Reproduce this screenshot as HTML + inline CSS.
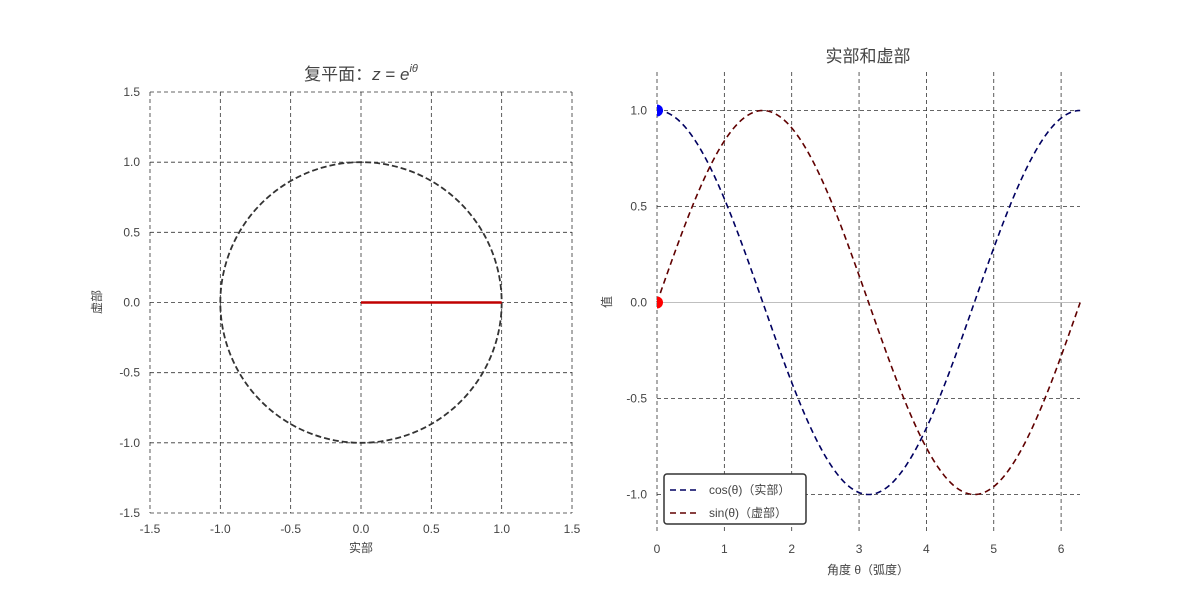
<!DOCTYPE html>
<html><head><meta charset="utf-8"><style>
body{margin:0;background:#fff;}
svg text{font-family:"Liberation Sans","Noto Sans CJK SC",sans-serif;fill:#444;}
</style></head><body>
<svg width="1200" height="600" xmlns="http://www.w3.org/2000/svg">
<g id="left"></g>
<g id="right"></g>
</svg>
<script>
const NS="http://www.w3.org/2000/svg";
const leftTicks=[-1.5,-1.0,-0.5,0.0,0.5,1.0,1.5];
const leftTickLabels=["-1.5","-1.0","-0.5","0.0","0.5","1.0","1.5"];
const rightXTicks=[0,1,2,3,4,5,6];
const rightYTicks=[-1.0,-0.5,0.0,0.5,1.0];
const rightYTickLabels=["-1.0","-0.5","0.0","0.5","1.0"];
const circleRadius=[1];
const phasorEnd=[1,0];
const thetaMax=[2*Math.PI];
const startCos=[1];
const startSin=[0];
function el(p,t,a){const e=document.createElementNS(NS,t);for(const k in a)e.setAttribute(k,a[k]);p.appendChild(e);return e;}
// left axes
const L=document.getElementById('left');
const lx=v=>361+v*140.67, ly=v=>302.5-v*140.33;
leftTicks.forEach((t,i)=>{
 const g=el(L,'line',{x1:lx(t),x2:lx(t),y1:ly(1.5),y2:ly(-1.5),stroke:'#333','stroke-dasharray':'4,3','stroke-width':0.8});
 
 
 const h=el(L,'line',{x1:lx(-1.5),x2:lx(1.5),y1:ly(t),y2:ly(t),stroke:'#333','stroke-dasharray':'4,3','stroke-width':0.8});
 
 
 const tx=el(L,'text',{x:lx(t),y:533,'font-size':12,'text-anchor':'middle'});tx.textContent=leftTickLabels[i];
 
 
 const ty=el(L,'text',{x:140,y:ly(t)+4,'font-size':12,'text-anchor':'end'});ty.textContent=leftTickLabels[i];
 
 
});
const circ=el(L,'ellipse',{cx:lx(0),cy:ly(0),rx:lx(circleRadius[0])-lx(0),ry:ly(0)-ly(circleRadius[0]),fill:'none',stroke:'#333','stroke-width':1.8,'stroke-dasharray':'6,3'});


const ph=el(L,'line',{x1:lx(0),y1:ly(0),x2:lx(phasorEnd[0]),y2:ly(phasorEnd[1]),stroke:'#c00000','stroke-width':2.5});


let t1=el(L,'text',{x:361,y:80,'font-size':17,'text-anchor':'middle'});t1.innerHTML='复平面：<tspan font-style="italic">z</tspan> = <tspan font-style="italic">e</tspan><tspan font-size="11" dy="-8" font-style="italic">iθ</tspan>';


let xl=el(L,'text',{x:361,y:552,'font-size':12,'text-anchor':'middle'});xl.textContent='实部';


let yl=el(L,'text',{x:0,y:0,'font-size':12,'text-anchor':'middle',transform:'translate(101,302) rotate(-90)'});yl.textContent='虚部';


// right axes
const R=document.getElementById('right');
const rx=v=>657+v*67.35, ry=v=>302.5-v*192;
const cp=el(R,'clipPath',{id:'rc'});el(cp,'rect',{x:657,y:72,width:423,height:461});
rightXTicks.forEach(t=>{
 const g=el(R,'line',{x1:rx(t),x2:rx(t),y1:72,y2:533,stroke:'#333','stroke-dasharray':'4,3','stroke-width':0.8});
 
 
 const tx=el(R,'text',{x:rx(t),y:553,'font-size':12,'text-anchor':'middle'});tx.textContent=String(t);
 
 
});
rightYTicks.forEach((t,i)=>{
 const g=el(R,'line',{x1:657,x2:1080,y1:ry(t),y2:ry(t),stroke:t===0?'#aaa':'#333','stroke-dasharray':t===0?'none':'4,3','stroke-width':0.8});
 
 
 const ty=el(R,'text',{x:647,y:ry(t)+4,'font-size':12,'text-anchor':'end'});ty.textContent=rightYTickLabels[i];
 
 
});
function curve(f,color,name){let d='';const N=200;for(let i=0;i<=N;i++){const th=thetaMax[0]*i/N;d+=(i?'L':'M')+rx(th).toFixed(2)+','+ry(f(th)).toFixed(2);}
 const p=el(R,'path',{d,fill:'none',stroke:color,'stroke-width':1.6,'stroke-dasharray':'6,4'});
 
 }
curve(Math.cos,'#000060','cos-line');
curve(Math.sin,'#600000','sin-line');
const m1=el(R,'circle',{cx:rx(0),cy:ry(startCos[0]),r:6,fill:'#0000ff','clip-path':'url(#rc)'});


const m2=el(R,'circle',{cx:rx(0),cy:ry(startSin[0]),r:6,fill:'#ff0000','clip-path':'url(#rc)'});


let t2=el(R,'text',{x:868,y:62,'font-size':17,'text-anchor':'middle'});t2.textContent='实部和虚部';


let xl2=el(R,'text',{x:868,y:574,'font-size':12,'text-anchor':'middle'});xl2.textContent='角度 θ（弧度）';


let yl2=el(R,'text',{x:0,y:0,'font-size':12,'text-anchor':'middle',transform:'translate(611,302) rotate(-90)'});yl2.textContent='值';


// legend
const lg=el(R,'g',{});


el(lg,'rect',{x:664,y:474,width:142,height:50,rx:3,fill:'#fff',stroke:'#333','stroke-width':1.5});
[['cos(θ)（实部）','#000060',490],['sin(θ)（虚部）','#600000',513]].forEach(([lab,c,y])=>{
 const e=el(lg,'g',{});
 
 
 el(e,'line',{x1:670,x2:698,y1:y,y2:y,stroke:c,'stroke-width':1.6,'stroke-dasharray':'6,4'});
 const t=el(e,'text',{x:709,y:y+4,'font-size':12});t.textContent=lab;
});
</script>
</body></html>
